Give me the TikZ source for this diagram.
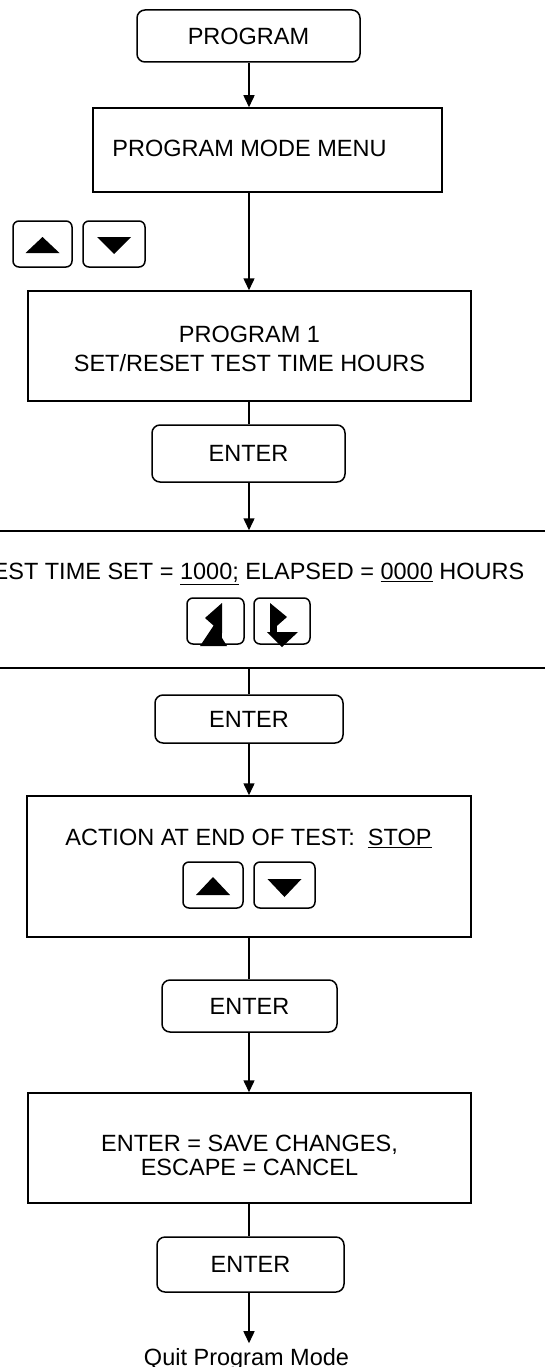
\documentclass[tikz,border=0pt]{standalone}
\usepackage{fontspec}
\setmainfont{Liberation Sans}
\usetikzlibrary{arrows.meta}
\begin{document}
\begin{tikzpicture}[x=1pt,y=-1pt, line width=1.5pt,
  txt/.style={inner sep=0pt, align=center, font=\fontsize{23.5}{29}\selectfont},
  box/.style={draw, txt},
  rbox/.style={box, rounded corners=8pt},
  btn/.style={draw, rounded corners=6pt, minimum width=#1, minimum height=46pt, inner sep=0pt},
  arr/.style={-{Triangle[width=11pt,length=12pt]}},
  icon/.style={fill=black, draw=none}
]
\useasboundingbox (0,0) rectangle (545,1367);

% boxes
\node[rbox, minimum width=223pt, minimum height=52pt] (prog) at (248.5,36) {PROGRAM};
\node[box, minimum width=349pt, minimum height=84pt] (menu) at (267.5,150) {};
\node[txt] (menut) at (249.5,148) {PROGRAM MODE MENU};

\node[btn=59pt] (b1) at (42.5,244) {};
\node[btn=62pt] (b2) at (114,244) {};
\fill[icon, shift={(b1.center)}] (-17,9) -- (17,9) -- (0,-7) -- cycle;
\fill[icon, shift={(b2.center)}] (-17,-7) -- (17,-7) -- (0,10) -- cycle;

\node[box, minimum width=443pt, minimum height=110pt] (p1) at (249.5,346) {};
\node[txt] (p1t) at (249.5,348.5) {PROGRAM 1\\SET/RESET TEST TIME HOURS};

\node[rbox, minimum width=193pt, minimum height=57pt] (e1) at (248.5,453.5) {ENTER};

\node[box, minimum width=570pt, minimum height=137pt] (wide) at (272.5,599.5) {};
\node[txt, anchor=east] (widet) at (525,574) {TEST TIME SET = \underline{1000;} ELAPSED = \underline{0000} HOURS};
\node[btn=57pt] (lb) at (215.5,621) {};
\node[btn=56pt] (rb) at (282,621) {};
\fill[icon, shift={(lb.center)}] (6.5,-18) -- (-10.5,-3) -- (6.5,12) -- cycle;
\fill[icon, shift={(lb.center)}] (-0.5,-12) rectangle (6.5,20);
\fill[icon, shift={(lb.center)}] (-15.5,25) -- (11.5,25) -- (-1.5,4) -- cycle;
\fill[icon, shift={(rb.center)}] (-12,-18) -- (5,-4) -- (-12,11) -- cycle;
\fill[icon, shift={(rb.center)}] (-12,-12) rectangle (-5,12);
\fill[icon, shift={(rb.center)}] (-15,11) -- (16,11) -- (0,26) -- cycle;

\node[rbox, minimum width=188pt, minimum height=48pt] (e2) at (249,719) {ENTER};

\node[box, minimum width=444pt, minimum height=141pt] (act) at (249,866.5) {};
\node[txt] (actt) at (248.5,838) {ACTION AT END OF TEST:\ \ \underline{STOP}};
\node[btn=60pt] (ab1) at (213,885) {};
\node[btn=61pt] (ab2) at (284.5,885) {};
\fill[icon, shift={(ab1.center)}] (-17,10) -- (17,10) -- (0,-8) -- cycle;
\fill[icon, shift={(ab2.center)}] (-17,-6) -- (17,-6) -- (0,12) -- cycle;

\node[rbox, minimum width=175pt, minimum height=52pt] (e3) at (249.5,1006) {ENTER};

\node[box, minimum width=443pt, minimum height=110pt] (save) at (249.5,1148) {};
\node[txt, font=\fontsize{23.5}{24}\selectfont] (savet) at (249.5,1155) {ENTER = SAVE CHANGES,\\ESCAPE = CANCEL};

\node[rbox, minimum width=187pt, minimum height=55pt] (e4) at (250.5,1264.5) {ENTER};

\node[txt, anchor=base] (quit) at (246.5,1365) {Quit Program Mode};

% connectors
\coordinate (cx) at (249,0);
\draw[arr] (prog.south -| cx) -- (menu.north -| cx);
\draw[arr] (menu.south -| cx) -- (p1.north -| cx);
\draw (p1.south -| cx) -- (e1.north -| cx);
\draw[arr] (e1.south -| cx) -- (wide.north -| cx);
\draw (wide.south -| cx) -- (e2.north -| cx);
\draw[arr] (e2.south -| cx) -- (act.north -| cx);
\draw (act.south -| cx) -- (e3.north -| cx);
\draw[arr] (e3.south -| cx) -- (save.north -| cx);
\draw (save.south -| cx) -- (e4.north -| cx);
\draw[arr, shorten >=4pt] (e4.south -| cx) -- (quit.north -| cx);
\end{tikzpicture}
\end{document}
